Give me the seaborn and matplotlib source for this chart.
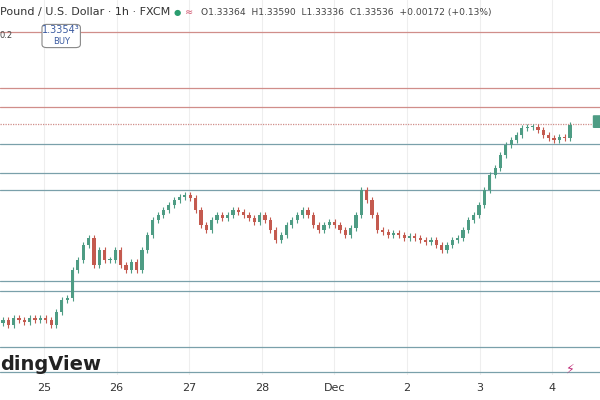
import numpy as np
import matplotlib
matplotlib.use("Agg")
import matplotlib.pyplot as plt
import seaborn as sns
from matplotlib.patches import FancyBboxPatch

closes = [1.3158,1.3153,1.3160,1.3158,1.3156,1.3160,1.3158,
          1.3160,1.3158,1.3153,1.3166,1.3178,1.3180,
          1.3208,1.3218,1.3233,1.3240,
          1.3213,1.3228,1.3218,
          1.3218,1.3228,1.3213,1.3208,1.3216,1.3208,
          1.3228,1.3243,1.3258,1.3263,1.3268,1.3273,1.3278,1.3281,
          1.3283,1.3280,1.3268,1.3253,1.3248,
          1.3258,1.3263,1.3260,1.3263,1.3268,1.3266,1.3263,1.3260,1.3256,1.3263,
          1.3258,1.3248,1.3238,1.3243,1.3253,1.3258,1.3263,
          1.3268,1.3263,1.3253,1.3248,1.3253,1.3256,
          1.3253,1.3248,1.3243,1.3250,1.3263,1.3288,
          1.3278,1.3263,1.3248,1.3246,1.3243,1.3245,
          1.3243,1.3240,1.3242,1.3240,1.3238,1.3236,1.3238,
          1.3233,1.3228,1.3233,1.3238,1.3240,1.3248,1.3258,1.3263,
          1.3273,1.3288,1.3303,1.3310,1.3323,1.3333,1.3338,1.3343,
          1.3350,1.3351,1.3351,1.3348,1.3343,1.3340,1.3338,1.3341,1.3340,1.3353]
first_open = 1.3155
red_levels = [1.3446, 1.3390, 1.3371]
blue_levels = [1.3334, 1.3305, 1.3288, 1.3197, 1.3187, 1.3131, 1.3106]
current_price = 1.3354
day_labels = ["25", "26", "27", "28", "Dec", "2", "3", "4"]

sns.set_style("white")
fig = plt.figure(figsize=(6, 4), dpi=100)
ax = fig.add_axes([0, 0.0625, 1, 0.9375])

px_per_day = 72.6
def px2d(px):
    return (px - 44) / px_per_day

n = len(closes)
xs = np.linspace(px2d(3), px2d(570), n)
opens = [first_open] + closes[:-1]
up, dn = "#4e9c84", "#c45a4f"
w = (xs[1] - xs[0]) * 0.6
for x, o, c in zip(xs, opens, closes):
    col = up if c >= o else dn
    lo, hi = min(o, c), max(o, c)
    ax.vlines(x, lo - 0.0003, hi + 0.0003, color=col, lw=0.8, zorder=3)
    ax.bar(x, max(hi - lo, 0.00006), bottom=lo, width=w, color=col, zorder=4, lw=0)

for lv in red_levels:
    ax.axhline(lv, color="#d08e8a", lw=0.9, zorder=2)
ax.axhline(current_price, color="#d08e8a", lw=0.9, ls=(0, (1, 1)), zorder=2)
for lv in blue_levels:
    ax.axhline(lv, color="#7aa0aa", lw=0.9, zorder=2)

for d in range(len(day_labels)):
    ax.axvline(d, color="#eeeeee", lw=0.8, zorder=1)

ax.set_xlim(px2d(0), px2d(600))
ax.set_ylim(1.3103, 1.3478)
ax.set_xticks(range(len(day_labels)))
ax.set_xticklabels(day_labels, fontsize=8, color="#333333")
ax.tick_params(axis="x", length=0, pad=6)
ax.set_yticks([])
for s in ax.spines.values():
    s.set_visible(False)

fig.text(0.0, 0.97, "Pound / U.S. Dollar · 1h · FXCM", fontsize=8, color="#333333", va="center")
fig.text(0.29, 0.97, "●", fontsize=6, color="#2a9d6f", va="center")
fig.text(0.308, 0.97, "≈", fontsize=7, color="#d0506a", va="center")
fig.text(0.335, 0.97, "O1.33364  H1.33590  L1.33336  C1.33536  +0.00172 (+0.13%)",
         fontsize=6.6, color="#444444", va="center")
fig.text(0.0, 0.91, "0.2", fontsize=6, color="#444444", va="center")
box = FancyBboxPatch((0.074, 0.885), 0.056, 0.05, boxstyle="round,pad=0.004,rounding_size=0.008",
                     transform=fig.transFigure, fc="white", ec="#888888", lw=0.8, zorder=10)
fig.patches.append(box)
fig.text(0.102, 0.925, "1.3354³", fontsize=7, color="#3a5aa0", ha="center", va="center", zorder=11)
fig.text(0.102, 0.895, "BUY", fontsize=6, color="#3a5aa0", ha="center", va="center", zorder=11)
fig.text(0.0, 0.09, "dingView", fontsize=14, fontweight="bold", color="#222222", va="center")
fig.text(0.95, 0.078, "⚡", fontsize=9, color="#c0307a", ha="center", va="center")
box2 = FancyBboxPatch((0.99, 0.682), 0.03, 0.028, boxstyle="round,pad=0.002",
                      transform=fig.transFigure, fc="#4e9c84", ec="none", zorder=10)
fig.patches.append(box2)
fig.savefig("out.png", dpi=100)
